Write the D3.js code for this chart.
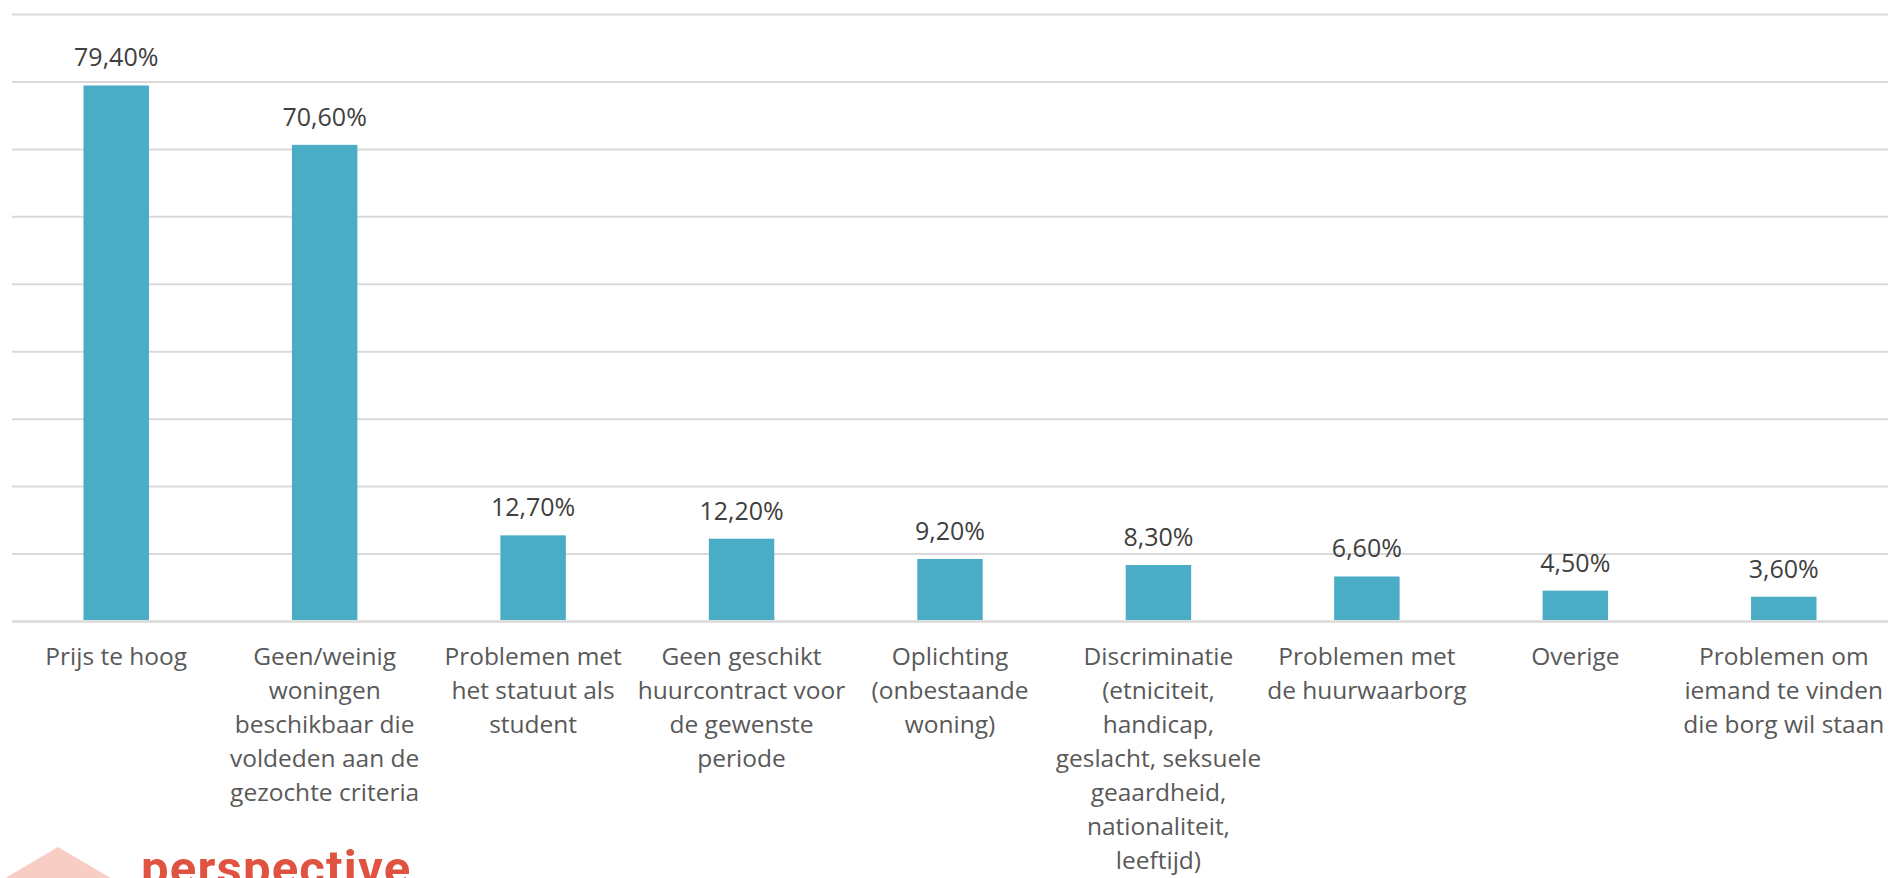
<!DOCTYPE html>
<html>
<head>
<meta charset="utf-8">
<script src="https://cdn.jsdelivr.net/npm/d3@7"></script>
<style>
  html, body { margin: 0; padding: 0; background: #fff; overflow: hidden; }
  svg { display: block; }
</style>
</head>
<body>
<div id="chart"></div>
<script>
// categorieën (regels gescheiden door \n zoals in de grafiek)
const categories = [
  "Prijs te hoog",
  "Geen/weinig\nwoningen\nbeschikbaar die\nvoldeden aan de\ngezochte criteria",
  "Problemen met\nhet statuut als\nstudent",
  "Geen geschikt\nhuurcontract voor\nde gewenste\nperiode",
  "Oplichting\n(onbestaande\nwoning)",
  "Discriminatie\n(etniciteit,\nhandicap,\ngeslacht, seksuele\ngeaardheid,\nnationaliteit,\nleeftijd)",
  "Problemen met\nde huurwaarborg",
  "Overige",
  "Problemen om\niemand te vinden\ndie borg wil staan"
];

// percentages
const values = [79.4, 70.6, 12.7, 12.2, 9.2, 8.3, 6.6, 4.5, 3.6];

// rasterlijnen
const gridTicks = [0, 10, 20, 30, 40, 50, 60, 70, 80, 90];

const FONT = "'Open Sans', 'Noto Sans', sans-serif";

const width = 1890;
const height = 878;

const margin = { left: 12, right: 2, top: 14, bottom: 257 };
const innerWidth = width - margin.left - margin.right;
const innerHeight = height - margin.top - margin.bottom;

const svg = d3.select("#chart")
  .append("svg")
  .attr("width", width)
  .attr("height", height);

const g = svg.append("g")
  .attr("transform", `translate(${margin.left}, ${margin.top})`);

const nl = d3.formatLocale({ decimal: ",", thousands: ".", grouping: [3], currency: ["€", ""] });
const fmt = v => nl.format(".2f")(v) + "%";

const x = d3.scaleBand()
  .domain(categories)
  .range([0, innerWidth])
  .paddingInner(0.686)
  .paddingOuter(0.343);

const y = d3.scaleLinear()
  .domain([0, 90])
  .range([innerHeight, 0]);

// rasterlijnen
const grid = g.append("g")
  .call(d3.axisLeft(y).tickValues(gridTicks).tickSize(-innerWidth).tickFormat(""));
grid.select(".domain").remove();
grid.selectAll(".tick text").remove();
grid.selectAll(".tick line")
  .attr("stroke", "#d9d9d9")
  .attr("stroke-width", d => d === 0 ? 2.5 : 2);

const data = categories.map((c, i) => ({ cat: c, value: values[i] }));

// balken
g.selectAll("rect.bar")
  .data(data)
  .enter()
  .append("rect")
  .attr("class", "bar")
  .attr("x", d => x(d.cat))
  .attr("y", d => y(d.value))
  .attr("width", x.bandwidth())
  .attr("height", d => y(0) - y(d.value) - 1)
  .attr("fill", "#4bacc6");

// waardelabels
g.selectAll("text.val")
  .data(data)
  .enter()
  .append("text")
  .attr("class", "val")
  .attr("x", d => x(d.cat) + x.bandwidth() / 2)
  .attr("y", d => y(d.value) - 19)
  .attr("text-anchor", "middle")
  .attr("font-family", FONT)
  .attr("font-size", 25)
  .attr("fill", "#404040")
  .text(d => fmt(d.value));

// categorielabels, één tekst per regel
const lines = [];
categories.forEach(c => {
  c.split("\n").forEach((t, i) => lines.push({ cat: c, line: i, text: t }));
});

g.append("g")
  .selectAll("text")
  .data(lines)
  .enter()
  .append("text")
  .attr("x", d => x(d.cat) + x.bandwidth() / 2)
  .attr("y", d => innerHeight + 44 + d.line * 34)
  .attr("text-anchor", "middle")
  .attr("font-family", FONT)
  .attr("font-size", 24.5)
  .attr("fill", "#595959")
  .text(d => d.text);

// logo (afgesneden onderaan)
const logo = svg.append("g");
logo.append("polygon")
  .attr("points", "58,847 2,880 114,880")
  .attr("fill", "#f8cdc4");
logo.append("text")
  .attr("x", 141)
  .attr("y", 885)
  .attr("font-family", "Roboto, 'Liberation Sans', sans-serif")
  .attr("font-weight", 700)
  .attr("font-size", 49)
  .attr("letter-spacing", 1.2)
  .attr("fill", "#df5340")
  .text("perspective");
</script>
</body>
</html>
